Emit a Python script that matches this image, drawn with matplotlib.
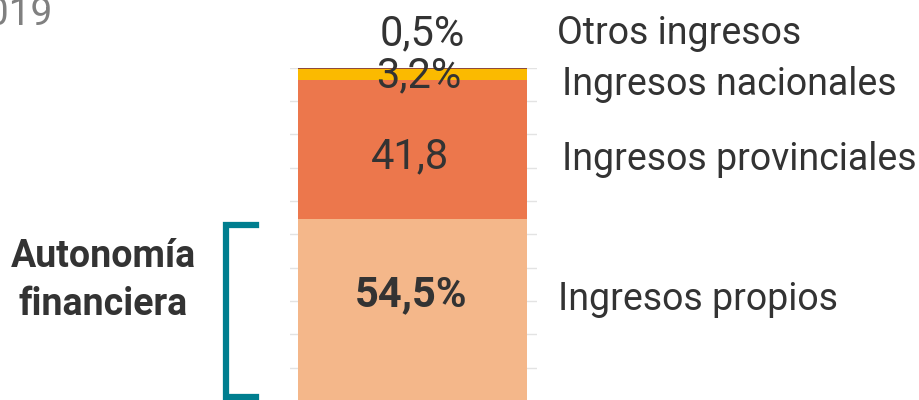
import matplotlib
matplotlib.use('Agg')
import matplotlib.pyplot as plt
from matplotlib.lines import Line2D

plt.rcParams['font.family'] = ['Roboto', 'DejaVu Sans']

# datos: composición de ingresos (%)
categorias = ['Ingresos propios', 'Ingresos provinciales', 'Ingresos nacionales', 'Otros ingresos']
valores = [54.5, 41.8, 3.2, 0.5]
etiquetas = ['54,5%', '41,8', '3,2%', '0,5%']
colores = ['#F4B78A', '#EC774C', '#FBBA00', '#8E4A3C']

W, H = 919, 400
fig = plt.figure(figsize=(W / 100, H / 100), dpi=100)

def fx(px):
    return px / W

def fy(py):
    return 1 - py / H

# eje de la barra: 0% en y=401 px, 100% en y=67.5 px
ax = fig.add_axes([fx(290), fy(401), fx(537) - fx(290), fy(67.5) - fy(401)])
ax.set_xlim(0, 247)
ax.set_ylim(0, 100)
for v in range(0, 101, 10):
    ax.axhline(v, color='#e3e3e3', lw=1, zorder=0)

base = 0
for val, col in zip(valores, colores):
    ax.bar(8, val, width=229, bottom=base, color=col, align='edge', zorder=2,
           edgecolor='none')
    base += val
ax.axis('off')

txt = '#333333'
fs_val = 30
fs_cat = 27
# valores sobre la barra
fig.text(fx(422), fy(45), etiquetas[3], ha='center', va='baseline', fontsize=fs_val, color=txt)
fig.text(fx(419), fy(87), etiquetas[2], ha='center', va='baseline', fontsize=fs_val, color=txt)
fig.text(fx(410), fy(168), etiquetas[1], ha='center', va='baseline', fontsize=fs_val, color=txt)
fig.text(fx(411), fy(306), etiquetas[0], ha='center', va='baseline', fontsize=fs_val,
         color=txt, fontweight='bold')

# nombres de las categorías
fig.text(fx(557), fy(44), categorias[3], ha='left', va='baseline', fontsize=fs_cat, color=txt)
fig.text(fx(562), fy(95), categorias[2], ha='left', va='baseline', fontsize=fs_cat, color=txt)
fig.text(fx(562), fy(170), categorias[1], ha='left', va='baseline', fontsize=fs_cat, color=txt)
fig.text(fx(558), fy(310), categorias[0], ha='left', va='baseline', fontsize=fs_cat, color=txt)

# autonomía financiera + corchete
fig.text(fx(103), fy(267), 'Autonomía', ha='center', va='baseline', fontsize=27,
         color=txt, fontweight='bold')
fig.text(fx(103), fy(315), 'financiera', ha='center', va='baseline', fontsize=27,
         color=txt, fontweight='bold')
teal = '#007E8F'
fig.add_artist(Line2D([fx(256), fx(226), fx(226), fx(256)],
                      [fy(225), fy(225), fy(397), fy(397)],
                      color=teal, lw=4.5, solid_joinstyle='miter'))

# año (recortado en el original)
fig.text(fx(53), fy(25), '2019', ha='right', va='baseline', fontsize=28, color='#808080')

fig.savefig('out.png', dpi=100)
